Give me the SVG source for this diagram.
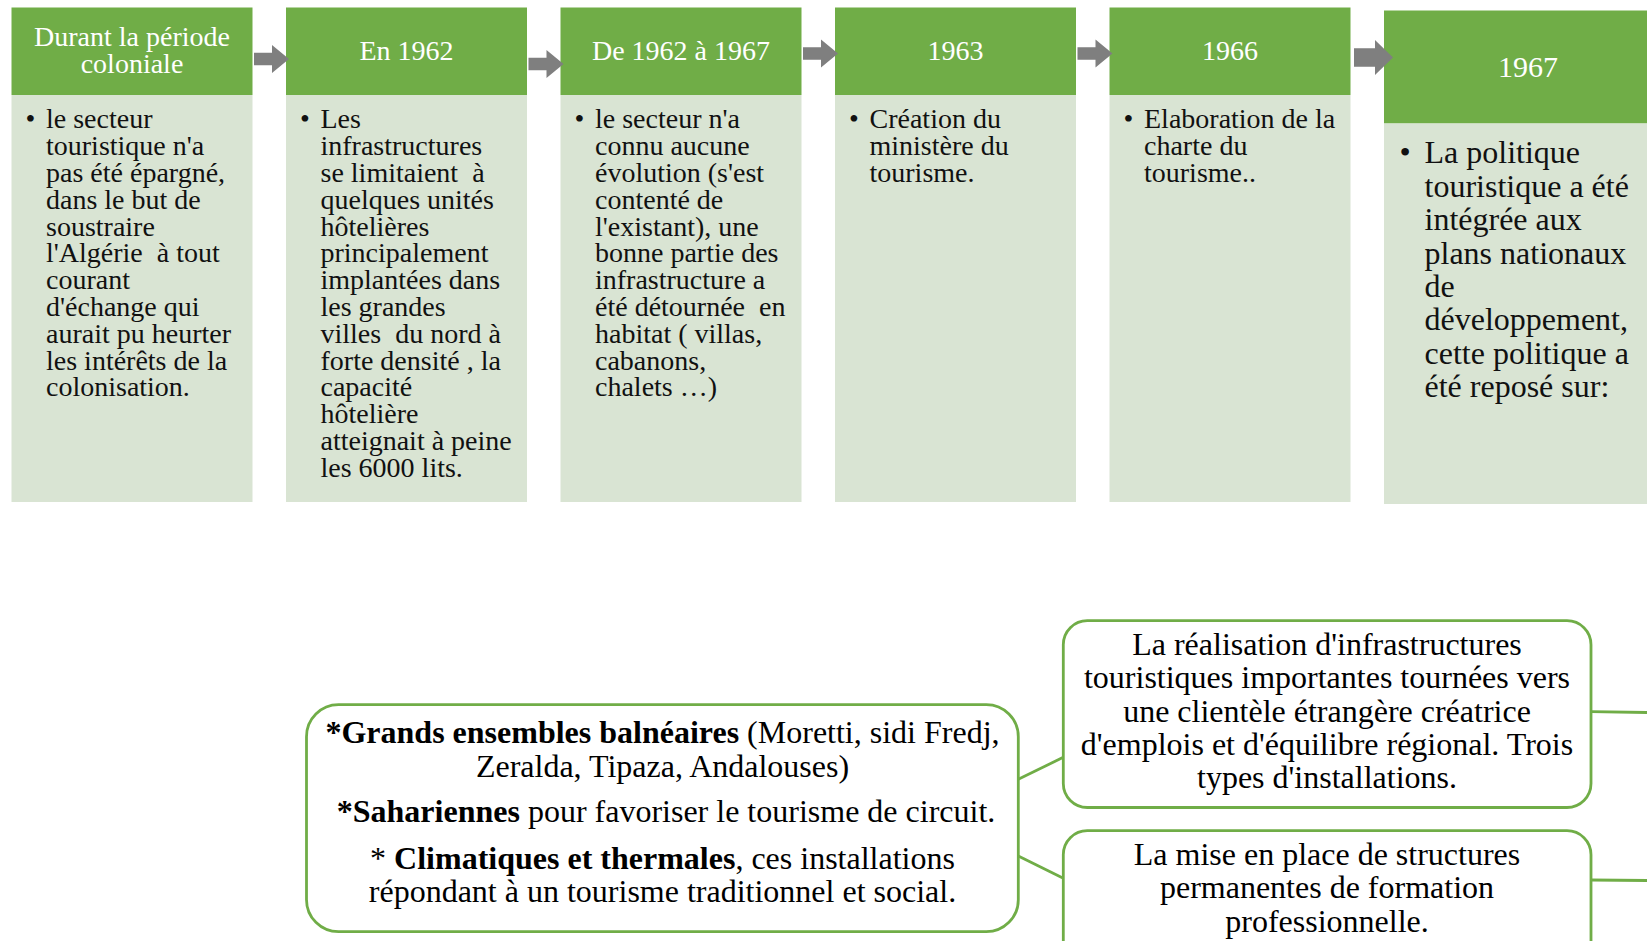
<svg xmlns="http://www.w3.org/2000/svg" width="1647" height="941" viewBox="0 0 1647 941">
  <style>
    .head { fill: #70AD47; }
    .body { fill: #D9E4D3; }
    .htxt { font-family: "Liberation Serif", "Times New Roman", serif; font-size: 28px; fill: #FFFFFF; text-anchor: middle; }
    .btxt { font-family: "Liberation Serif", "Times New Roman", serif; font-size: 28px; fill: #111111; white-space: pre; }
    .btxt6 { font-family: "Liberation Serif", "Times New Roman", serif; font-size: 32px; fill: #111111; white-space: pre; }
    .arrow { fill: #7F7F7F; }
    .card { fill: #FFFFFF; stroke: #70AD47; stroke-width: 2.8; }
    .link { fill: none; stroke: #70AD47; stroke-width: 2.8; }
    .ctxt { font-family: "Liberation Serif", "Times New Roman", serif; font-size: 32px; fill: #000000; text-anchor: middle; white-space: pre; }
    .b { font-weight: bold; }
  </style>

  <rect width="1647" height="941" fill="#FFFFFF"/>

  <!-- Timeline column 1 -->
  <g id="col-coloniale">
    <rect class="head" x="11.5" y="7.5" width="241" height="87.5"/>
    <rect class="body" x="11.5" y="95" width="241" height="407"/>
    <text class="htxt" x="132" y="46">Durant la période</text>
    <text class="htxt" x="132" y="73">coloniale</text>
    <text class="btxt" x="25.5" y="128.3">•</text>
    <text class="btxt">
      <tspan x="46" y="128.3">le secteur</tspan>
      <tspan x="46" y="155.1">touristique n'a</tspan>
      <tspan x="46" y="181.9">pas été épargné,</tspan>
      <tspan x="46" y="208.7">dans le but de</tspan>
      <tspan x="46" y="235.5">soustraire</tspan>
      <tspan x="46" y="262.3">l'Algérie  à tout</tspan>
      <tspan x="46" y="289.1">courant</tspan>
      <tspan x="46" y="315.9">d'échange qui</tspan>
      <tspan x="46" y="342.7">aurait pu heurter</tspan>
      <tspan x="46" y="369.5">les intérêts de la</tspan>
      <tspan x="46" y="396.3">colonisation.</tspan>
    </text>
  </g>

  <!-- Timeline column 2 -->
  <g id="col-1962">
    <rect class="head" x="286" y="7.5" width="241" height="87.5"/>
    <rect class="body" x="286" y="95" width="241" height="407"/>
    <text class="htxt" x="406.5" y="60">En 1962</text>
    <text class="btxt" x="300" y="128.3">•</text>
    <text class="btxt">
      <tspan x="320.5" y="128.3">Les</tspan>
      <tspan x="320.5" y="155.1">infrastructures</tspan>
      <tspan x="320.5" y="181.9">se limitaient  à</tspan>
      <tspan x="320.5" y="208.7">quelques unités</tspan>
      <tspan x="320.5" y="235.5">hôtelières</tspan>
      <tspan x="320.5" y="262.3">principalement</tspan>
      <tspan x="320.5" y="289.1">implantées dans</tspan>
      <tspan x="320.5" y="315.9">les grandes</tspan>
      <tspan x="320.5" y="342.7">villes  du nord à</tspan>
      <tspan x="320.5" y="369.5">forte densité , la</tspan>
      <tspan x="320.5" y="396.3">capacité</tspan>
      <tspan x="320.5" y="423.1">hôtelière</tspan>
      <tspan x="320.5" y="449.9">atteignait à peine</tspan>
      <tspan x="320.5" y="476.7">les 6000 lits.</tspan>
    </text>
  </g>

  <!-- Timeline column 3 -->
  <g id="col-1962-1967">
    <rect class="head" x="560.5" y="7.5" width="241" height="87.5"/>
    <rect class="body" x="560.5" y="95" width="241" height="407"/>
    <text class="htxt" x="681" y="60">De 1962  à 1967</text>
    <text class="btxt" x="574.5" y="128.3">•</text>
    <text class="btxt">
      <tspan x="595" y="128.3">le secteur n'a</tspan>
      <tspan x="595" y="155.1">connu aucune</tspan>
      <tspan x="595" y="181.9">évolution (s'est</tspan>
      <tspan x="595" y="208.7">contenté de</tspan>
      <tspan x="595" y="235.5">l'existant), une</tspan>
      <tspan x="595" y="262.3">bonne partie des</tspan>
      <tspan x="595" y="289.1">infrastructure a</tspan>
      <tspan x="595" y="315.9">été détournée  en</tspan>
      <tspan x="595" y="342.7">habitat ( villas,</tspan>
      <tspan x="595" y="369.5">cabanons,</tspan>
      <tspan x="595" y="396.3">chalets …)</tspan>
    </text>
  </g>

  <!-- Timeline column 4 -->
  <g id="col-1963">
    <rect class="head" x="835" y="7.5" width="241" height="87.5"/>
    <rect class="body" x="835" y="95" width="241" height="407"/>
    <text class="htxt" x="955.5" y="60">1963</text>
    <text class="btxt" x="849" y="128.3">•</text>
    <text class="btxt">
      <tspan x="869.5" y="128.3">Création du</tspan>
      <tspan x="869.5" y="155.1">ministère du</tspan>
      <tspan x="869.5" y="181.9">tourisme.</tspan>
    </text>
  </g>

  <!-- Timeline column 5 -->
  <g id="col-1966">
    <rect class="head" x="1109.5" y="7.5" width="241" height="87.5"/>
    <rect class="body" x="1109.5" y="95" width="241" height="407"/>
    <text class="htxt" x="1230" y="60">1966</text>
    <text class="btxt" x="1123.5" y="128.3">•</text>
    <text class="btxt">
      <tspan x="1144" y="128.3">Elaboration de la</tspan>
      <tspan x="1144" y="155.1">charte du</tspan>
      <tspan x="1144" y="181.9">tourisme..</tspan>
    </text>
  </g>

  <!-- Timeline column 6 -->
  <g id="col-1967">
    <rect class="head" x="1384" y="10.5" width="290" height="113"/>
    <rect class="body" x="1384" y="123.5" width="290" height="380.5"/>
    <text class="htxt" x="1528" y="77" style="font-size:30px">1967</text>
    <text class="btxt6" x="1399.5" y="163.3">•</text>
    <text class="btxt6">
      <tspan x="1424.5" y="163.3">La politique</tspan>
      <tspan x="1424.5" y="196.7">touristique a été</tspan>
      <tspan x="1424.5" y="230.1">intégrée aux</tspan>
      <tspan x="1424.5" y="263.5">plans nationaux</tspan>
      <tspan x="1424.5" y="296.9">de</tspan>
      <tspan x="1424.5" y="330.3">développement,</tspan>
      <tspan x="1424.5" y="363.7">cette politique a</tspan>
      <tspan x="1424.5" y="397.1">été reposé sur:</tspan>
    </text>
  </g>

  <!-- Installation types -->
  <g id="installations">
    <rect class="card" x="306.5" y="704.7" width="711.8" height="227" rx="32" ry="32"/>
    <text class="ctxt" x="662.5" y="743.3"><tspan class="b">*Grands ensembles balnéaires</tspan> (Moretti, sidi Fredj,</text>
    <text class="ctxt" x="662.5" y="776.7">Zeralda, Tipaza, Andalouses)</text>
    <text class="ctxt" x="666" y="821.7"><tspan class="b">*Sahariennes</tspan> pour favoriser le tourisme de circuit.</text>
    <text class="ctxt" x="662.5" y="869.3">* <tspan class="b">Climatiques et thermales</tspan>, ces installations</text>
    <text class="ctxt" x="662.5" y="902">répondant à un tourisme traditionnel et social.</text>
  </g>

  <!-- Infrastructure axis -->
  <g id="infrastructures">
    <rect class="card" x="1063.3" y="620.7" width="527.7" height="186.8" rx="24" ry="24"/>
    <text class="ctxt" x="1327" y="655">La réalisation d'infrastructures</text>
    <text class="ctxt" x="1327" y="688.3">touristiques importantes tournées vers</text>
    <text class="ctxt" x="1327" y="721.7">une clientèle étrangère créatrice</text>
    <text class="ctxt" x="1327" y="755">d'emplois et d'équilibre régional. Trois</text>
    <text class="ctxt" x="1327" y="788.3">types d'installations.</text>
  </g>

  <!-- Training axis -->
  <g id="formation">
    <rect class="card" x="1063.3" y="830.7" width="527.7" height="160" rx="24" ry="24"/>
    <text class="ctxt" x="1327" y="865">La mise en place de structures</text>
    <text class="ctxt" x="1327" y="898.3">permanentes de formation</text>
    <text class="ctxt" x="1327" y="931.7">professionnelle.</text>
  </g>

  <!-- Connectors: timeline arrows and tree links -->
  <g id="connectors">
    <polygon class="arrow" points="254,52.8 272,52.8 272,45 289,59 272,73 272,65.2 254,65.2"/>
    <polygon class="arrow" points="528.5,57.8 546.5,57.8 546.5,50 563.5,64 546.5,78 546.5,70.2 528.5,70.2"/>
    <polygon class="arrow" points="803,47.3 821,47.3 821,39.5 838,53.5 821,67.5 821,59.7 803,59.7"/>
    <polygon class="arrow" points="1077.5,47.3 1095.5,47.3 1095.5,39.5 1112.5,53.5 1095.5,67.5 1095.5,59.7 1077.5,59.7"/>
    <polygon class="arrow" points="1354,48.3 1375,48.3 1375,40 1393,57.5 1375,75 1375,66.7 1354,66.7"/>
    <line class="link" x1="1018.3" y1="779.3" x2="1063.3" y2="757.3"/>
    <line class="link" x1="1018.3" y1="856" x2="1063.3" y2="878.3"/>
    <line class="link" x1="1591" y1="711.7" x2="1647" y2="712.5"/>
    <line class="link" x1="1591" y1="880" x2="1647" y2="880.5"/>
  </g>
</svg>
